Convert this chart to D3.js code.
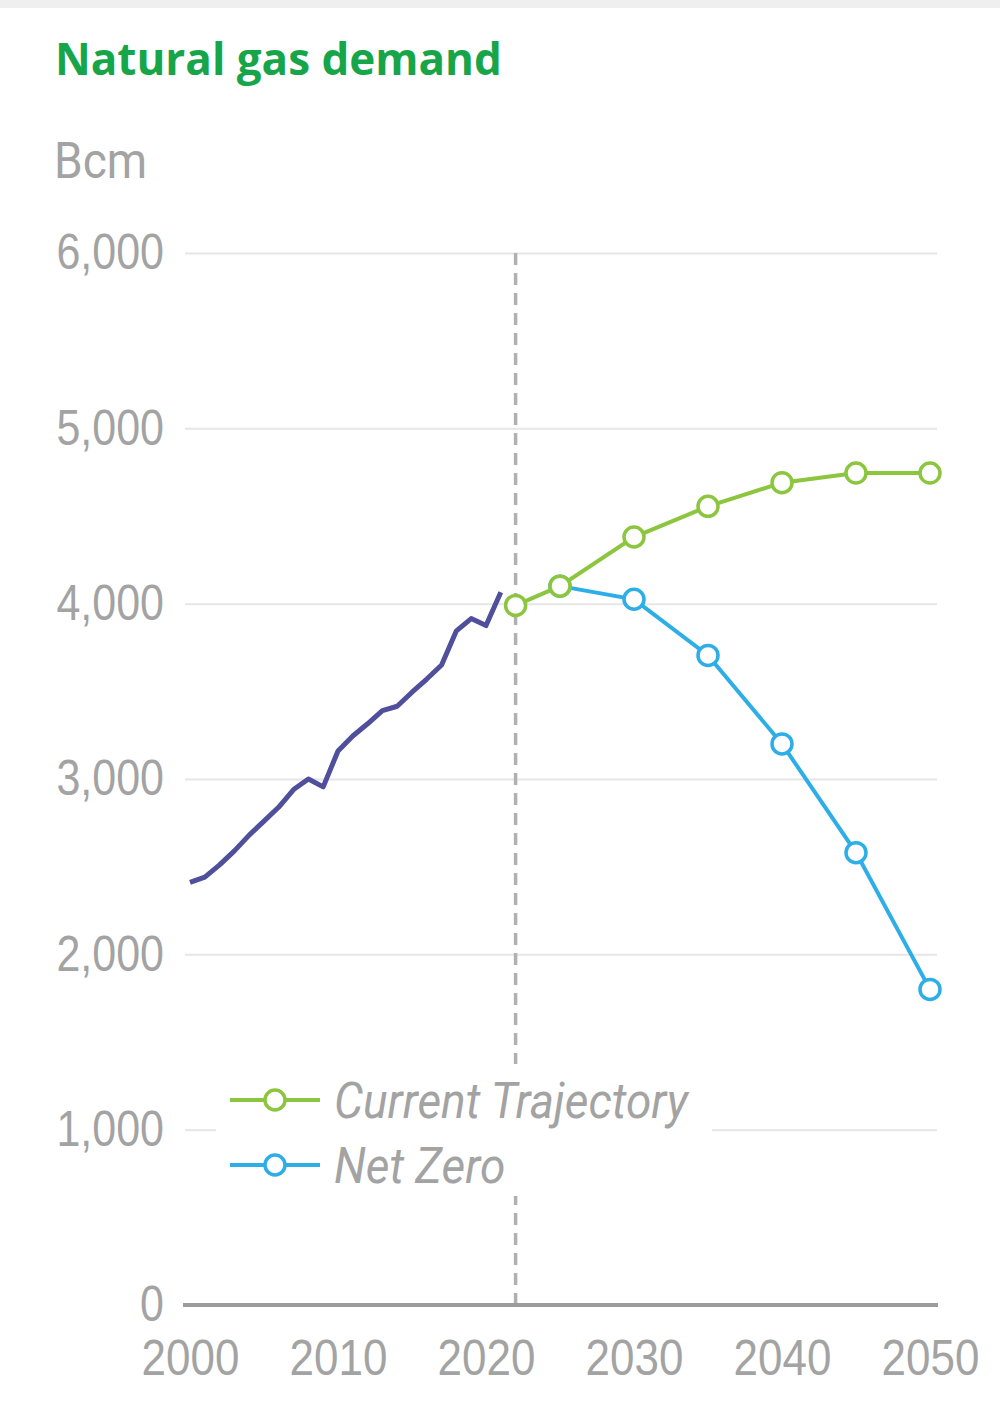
<!DOCTYPE html>
<html>
<head>
<meta charset="utf-8">
<script src="https://cdn.jsdelivr.net/npm/d3@7"></script>
<style>
  body { margin: 0; background: #fff; }
  svg { display: block; font-family: Roboto, "Noto Sans", sans-serif; }
  .title { font-family: "Open Sans", Roboto, sans-serif; }
</style>
</head>
<body>
<div id="chart"></div>
<script>
// historical demand, one value per year 2000-2021 (bcm)
const histYears = d3.range(2000, 2022);
const historical = [2410, 2440, 2510, 2590, 2680, 2760, 2840, 2940, 3000, 2955,
  3160, 3245, 3315, 3390, 3415, 3495, 3570, 3650, 3845, 3915, 3875, 4065];

// scenarios
const ctYears = [2022, 2025, 2030, 2035, 2040, 2045, 2050];
const currentTrajectory = [3990, 4100, 4380, 4555, 4690, 4745, 4745];
const nzYears = [2025, 2030, 2035, 2040, 2045, 2050];
const netZero = [4100, 4025, 3705, 3200, 2580, 1800];

const yTicks = [0, 1000, 2000, 3000, 4000, 5000, 6000];
const xTicks = [2000, 2010, 2020, 2030, 2040, 2050];
const splitYear = 2022;

const width = 1000, height = 1422;
const stretch = 1.15; // the source picture is a bit taller than wide
const grey = "#a3a3a3";

const svg = d3.select("#chart").append("svg")
  .attr("width", width)
  .attr("height", height);

svg.append("rect").attr("width", width).attr("height", 8).attr("fill", "#efefef");

const x = d3.scaleLinear().domain([2000, 2050]).range([190, 930]);
const y = d3.scaleLinear().domain([0, 6000]).range([1305, 253]);

// title + unit
svg.append("text")
  .attr("class", "title")
  .attr("transform", "translate(55,75) scale(1,1.03)")
  .attr("fill", "#17a54a")
  .style("font-size", "44px")
  .style("font-weight", 700)
  .text("Natural gas demand");

svg.append("text")
  .attr("transform", "translate(54,178) scale(1,1.07)")
  .attr("fill", grey)
  .style("font-size", "46px")
  .text("Bcm");

// y axis with gridlines
const yAxis = svg.append("g")
  .attr("transform", "translate(185,0)")
  .call(d3.axisLeft(y).tickValues(yTicks).tickSize(-752).tickPadding(21)
    .tickFormat(d3.format(",")));
yAxis.select(".domain").remove();
yAxis.selectAll(".tick line").attr("stroke", "#e6e6e6").attr("stroke-width", 2);
yAxis.selectAll(".tick text")
  .attr("fill", grey)
  .style("font-size", "43px")
  .attr("transform", `scale(1,${stretch})`);

// x axis labels
const xAxis = svg.append("g")
  .attr("transform", `translate(0,${y(0)})`)
  .call(d3.axisBottom(x).tickValues(xTicks).tickSize(0).tickPadding(30)
    .tickFormat(d3.format("d")));
xAxis.select(".domain").remove();
xAxis.selectAll(".tick text")
  .attr("fill", grey)
  .style("font-size", "44px")
  .attr("transform", `scale(1,${stretch})`);

// dashed split line
svg.append("line")
  .attr("x1", x(splitYear)).attr("x2", x(splitYear))
  .attr("y1", y(6000)).attr("y2", y(0))
  .attr("stroke", "#b0b0b0")
  .attr("stroke-width", 3.5)
  .attr("stroke-dasharray", "12,8");

// zero line
svg.append("line")
  .attr("x1", 183).attr("x2", 938)
  .attr("y1", y(0)).attr("y2", y(0))
  .attr("stroke", "#9c9c9c")
  .attr("stroke-width", 4);

const line = d3.line().x(d => x(d[0])).y(d => y(d[1]));

svg.append("path")
  .datum(histYears.map((yr, i) => [yr, historical[i]]))
  .attr("d", line)
  .attr("fill", "none")
  .attr("stroke", "#4f4f9c")
  .attr("stroke-width", 5)
  .attr("stroke-linejoin", "round");

const series = [
  { name: "Net Zero", color: "#2eaee6", data: nzYears.map((yr, i) => [yr, netZero[i]]) },
  { name: "Current Trajectory", color: "#8cc63f", data: ctYears.map((yr, i) => [yr, currentTrajectory[i]]) }
];

series.forEach(s => {
  svg.append("path")
    .datum(s.data)
    .attr("d", line)
    .attr("fill", "none")
    .attr("stroke", s.color)
    .attr("stroke-width", 4);
  svg.selectAll(null)
    .data(s.data)
    .enter()
    .append("circle")
    .attr("cx", d => x(d[0]))
    .attr("cy", d => y(d[1]))
    .attr("r", 10)
    .attr("fill", "#fff")
    .attr("stroke", s.color)
    .attr("stroke-width", 3.5);
});

// legend
const legend = svg.append("g");
legend.append("rect")
  .attr("x", 216).attr("y", 1064)
  .attr("width", 496).attr("height", 132)
  .attr("fill", "#fff");

const legendItems = legend.selectAll(".legend-item")
  .data(series.slice().reverse())
  .enter()
  .append("g")
  .attr("class", "legend-item")
  .attr("transform", (d, i) => `translate(230,${1100 + i * 65})`);

legendItems.append("line")
  .attr("x1", 0).attr("x2", 90)
  .attr("stroke", d => d.color)
  .attr("stroke-width", 4);
legendItems.append("circle")
  .attr("cx", 45).attr("r", 10)
  .attr("fill", "#fff")
  .attr("stroke", d => d.color)
  .attr("stroke-width", 3.5);
legendItems.append("text")
  .attr("transform", "translate(104,0) scale(1,1.08)")
  .attr("dy", "0.36em")
  .attr("fill", grey)
  .style("font-size", "46px")
  .style("font-style", "italic")
  .text(d => d.name);
</script>
</body>
</html>
